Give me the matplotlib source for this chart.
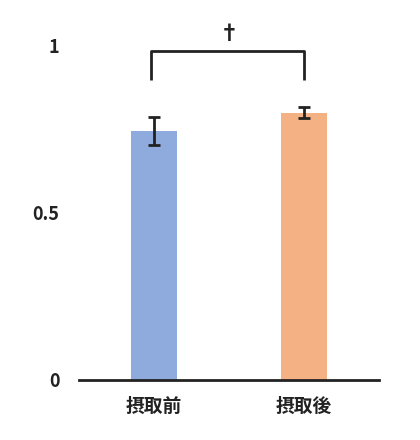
import numpy as np
import matplotlib
matplotlib.use('Agg')
import matplotlib.pyplot as plt

plt.rcParams['font.family'] = ['Noto Sans CJK JP', 'DejaVu Sans']

# data
labels = ['摂取前', '摂取後']
means = [0.745, 0.80]
errors = [0.042, 0.017]
colors = ['#8FAADC', '#F4B183']
yticks = [0, 0.5, 1]
ytick_labels = ['0', '0.5', '1']
sig_mark = '†'

fig = plt.figure(figsize=(4.2, 4.4), dpi=100)
ax = fig.add_axes([0.188, 0.1364, 0.714, 0.835])

x = np.arange(len(labels))
ax.bar(x, means, width=0.31, color=colors, zorder=2)
ax.errorbar(x, means, yerr=errors, fmt='none', ecolor='#222222',
            elinewidth=2, capsize=4, capthick=2, zorder=3)

# significance bracket
y_top = 0.985
y_leg = 0.898
ax.plot([x[0] - 0.02, x[0] - 0.02, x[1], x[1]], [y_leg, y_top, y_top, y_leg],
        color='#222222', lw=2, solid_capstyle='butt', clip_on=False)
ax.text((x[0] + x[1]) / 2, y_top + 0.02, sig_mark, ha='center', va='bottom',
        fontsize=15, fontweight='bold', color='#222222')

ax.set_xlim(-0.5, 1.5)
ax.set_ylim(0, 1.1)
ax.set_yticks(yticks)
ax.set_yticklabels(ytick_labels, fontsize=13, fontweight='bold', color='#222222')
ax.set_xticks(x)
ax.set_xticklabels(labels, fontsize=13.5, fontweight='bold', color='#222222')
ax.tick_params(axis='y', length=0, pad=14)
ax.tick_params(axis='x', length=0, pad=12)

for side in ['top', 'right', 'left']:
    ax.spines[side].set_visible(False)
ax.spines['bottom'].set_linewidth(2)
ax.spines['bottom'].set_color('#222222')

fig.savefig('out.png', dpi=100)
